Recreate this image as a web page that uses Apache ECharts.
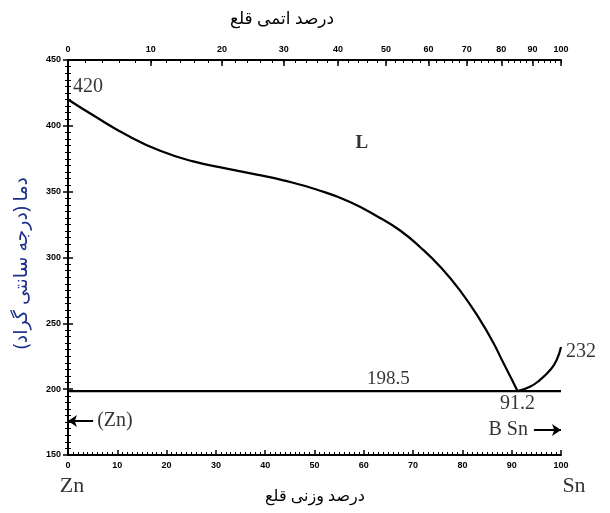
<!DOCTYPE html>
<html>
<head>
<meta charset="utf-8">
<script src="https://cdn.jsdelivr.net/npm/echarts@6/dist/echarts.min.js"></script>
<style>html,body{margin:0;padding:0;background:#fff}#c{width:610px;height:513px}</style>
</head>
<body>
<div id="c"></div>
<script>
// Liquidus of Zn (weight % Sn, temperature °C)
const znLiquidusWt = [0, 5.1, 11.9, 18.7, 25.4, 32.2, 38.3, 43.7, 50.4, 57.2, 63.3, 67.3, 71.4, 75.5, 79.5, 83.6, 86.3, 88.3, 90.0, 91.2];
const znLiquidusT  = [420, 408, 393, 381, 373, 367.5, 363, 358.6, 351.6, 342.2, 330, 320.7, 308, 293, 275, 252.5, 235, 220, 207.5, 198.5];
// Liquidus of Sn
const snLiquidusWt = [91.2, 93.7, 95.7, 97.8, 99.1, 100];
const snLiquidusT  = [198.5, 201.8, 206.9, 214.5, 222, 232];
// Eutectic line
const eutecticWt = [0, 100];
const eutecticT = 198.5;
// Axis ticks
const wtTicks = [0, 10, 20, 30, 40, 50, 60, 70, 80, 90, 100];
const atomicTicks = [0, 10, 20, 30, 40, 50, 60, 70, 80, 90, 100];
const tempTicks = [150, 200, 250, 300, 350, 400, 450];
// Atomic masses for converting atomic % to weight %
const M_SN = 118.71, M_ZN = 65.38;
const atomToWt = a => a === 0 ? 0 : (a * M_SN) / (a * M_SN + (100 - a) * M_ZN) * 100;
const atomicPos = atomicTicks.map(atomToWt);
const atomicMinor = [];
for (let a = 0; a <= 100; a += 2) atomicMinor.push(atomToWt(a));

// Annotations [wt%, T, text]
const notes = [
  [0, 420, '420'],
  [100, 232, '232'],
  [65, 198.5, '198.5'],
  [91.2, 198.5, '91.2'],
  [59.6, 386.7, 'L'],
  [5.1, 175.8, '(Zn)'],
  [94.5, 169, 'B Sn'],
  [0, 150, 'Zn'],
  [100, 150, 'Sn']
];
const arrows = [
  [[5.1, 175.8], [0, 175.8]],
  [[94.5, 169], [100, 169]]
];

const serif = '"Liberation Serif", "Times New Roman", serif';
const tickFont = '"Liberation Sans Narrow", "Liberation Sans", Arial, sans-serif';
const labelStyles = {
  '420':   {position: 'right', distance: 5, offset: [0, -13], fontSize: 20},
  '232':   {position: 'right', distance: 5, offset: [0, 5], fontSize: 20},
  '198.5': {position: 'top', distance: 3, fontSize: 19},
  '91.2':  {position: 'bottom', distance: 3, fontSize: 20},
  'L':     {position: 'inside', fontSize: 19, fontWeight: 'bold'},
  '(Zn)':  {position: 'right', distance: 4, fontSize: 20},
  'B Sn':  {position: 'left', distance: 6, fontSize: 20},
  'Zn':    {position: 'bottom', distance: 20, offset: [4, 0], fontSize: 22},
  'Sn':    {position: 'bottom', distance: 20, offset: [13, 0], fontSize: 22}
};

const axisLineStyle = {color: '#000', width: 2};
const chart = echarts.init(document.getElementById('c'), null, {renderer: 'canvas'});
chart.setOption({
  animation: false,
  backgroundColor: '#fff',
  grid: {left: 68, right: 49, top: 60, bottom: 58},
  xAxis: [
    {
      type: 'value', min: 0, max: 100, interval: 10, position: 'bottom',
      axisLine: {lineStyle: axisLineStyle},
      axisTick: {inside: true, length: 5, lineStyle: {color: '#000', width: 1.5}},
      minorTick: {show: true, splitNumber: 10, length: 3, lineStyle: {color: '#000', width: 1}},
      splitLine: {show: false},
      axisLabel: {color: '#000', fontSize: 9, fontWeight: 'bold', fontFamily: tickFont, margin: 6}
    },
    {
      type: 'value', min: 0, max: 100, position: 'top',
      axisLine: {lineStyle: axisLineStyle},
      axisTick: {inside: true, length: 6, customValues: atomicPos, lineStyle: {color: '#000', width: 1.5}},
      splitLine: {show: false},
      axisLabel: {
        color: '#000', fontSize: 9, fontWeight: 'bold', fontFamily: tickFont, margin: 6,
        customValues: atomicPos,
        formatter: v => {
          let best = 0, d = Infinity;
          atomicPos.forEach((p, i) => { if (Math.abs(p - v) < d) { d = Math.abs(p - v); best = i; } });
          return String(atomicTicks[best]);
        }
      }
    },
    {
      type: 'value', min: 0, max: 100, position: 'top',
      axisLine: {show: false},
      axisTick: {inside: true, length: 3, customValues: atomicMinor, lineStyle: {color: '#000', width: 1}},
      splitLine: {show: false},
      axisLabel: {show: false}
    }
  ],
  yAxis: [
    {
      type: 'value', min: 150, max: 450, interval: 50, position: 'left',
      axisLine: {show: true, lineStyle: axisLineStyle},
      axisTick: {show: true, inside: true, length: 5, lineStyle: {color: '#000', width: 1.5}},
      minorTick: {show: true, splitNumber: 10, length: 3, lineStyle: {color: '#000', width: 1}},
      splitLine: {show: false},
      axisLabel: {color: '#000', fontSize: 9, fontWeight: 'bold', fontFamily: tickFont, margin: 7,
        formatter: v => tempTicks.includes(v) ? String(v) : ''}
    },
    {
      type: 'value', min: 150, max: 450, interval: 50, position: 'right',
      axisLine: {show: true, lineStyle: axisLineStyle},
      axisTick: {show: true, inside: true, length: 5, lineStyle: {color: '#000', width: 1.5}},
      minorTick: {show: true, splitNumber: 10, length: 3, lineStyle: {color: '#000', width: 1}},
      splitLine: {show: false},
      axisLabel: {show: false}
    }
  ],
  series: [
    {
      type: 'line', xAxisIndex: 0, yAxisIndex: 0, smooth: 0.5, symbol: 'none',
      lineStyle: {color: '#000', width: 2.2},
      data: znLiquidusWt.map((w, i) => [w, znLiquidusT[i]])
    },
    {
      type: 'line', xAxisIndex: 0, yAxisIndex: 0, smooth: 0.5, symbol: 'none',
      lineStyle: {color: '#000', width: 2.2},
      data: snLiquidusWt.map((w, i) => [w, snLiquidusT[i]])
    },
    {
      type: 'line', xAxisIndex: 0, yAxisIndex: 0, symbol: 'none',
      lineStyle: {color: '#000', width: 2.2},
      data: eutecticWt.map(w => [w, eutecticT]),
      markLine: {
        silent: true, symbol: ['none', 'arrow'], symbolSize: [9, 9],
        lineStyle: {color: '#000', width: 2, type: 'solid'},
        label: {show: false},
        data: arrows.map(a => [{coord: a[0]}, {coord: a[1]}])
      }
    },
    {
      type: 'scatter', xAxisIndex: 0, yAxisIndex: 0, symbolSize: 0, clip: false, silent: true,
      data: notes.map(n => ({
        value: [n[0], n[1]],
        label: Object.assign({show: true, formatter: n[2], color: '#000', fontFamily: serif}, labelStyles[n[2]])
      }))
    }
  ],
  graphic: [
    {type: 'text', x: 282, y: 19,
      style: {text: 'درصد اتمی قلع', font: '17px "Noto Sans", "DejaVu Sans", sans-serif', fill: '#000',
        textAlign: 'center', textVerticalAlign: 'middle'}},
    {type: 'text', x: 315, y: 496,
      style: {text: 'درصد وزنی قلع', font: '16px "Noto Sans", "DejaVu Sans", sans-serif', fill: '#000',
        textAlign: 'center', textVerticalAlign: 'middle'}},
    {type: 'text', x: 22, y: 263, rotation: Math.PI / 2,
      style: {text: 'دما (درجه سانتی گراد)', font: '19px "Noto Sans", "DejaVu Sans", sans-serif', fill: '#1c2f8a',
        textAlign: 'center', textVerticalAlign: 'middle'}}
  ]
});
</script>
</body>
</html>
